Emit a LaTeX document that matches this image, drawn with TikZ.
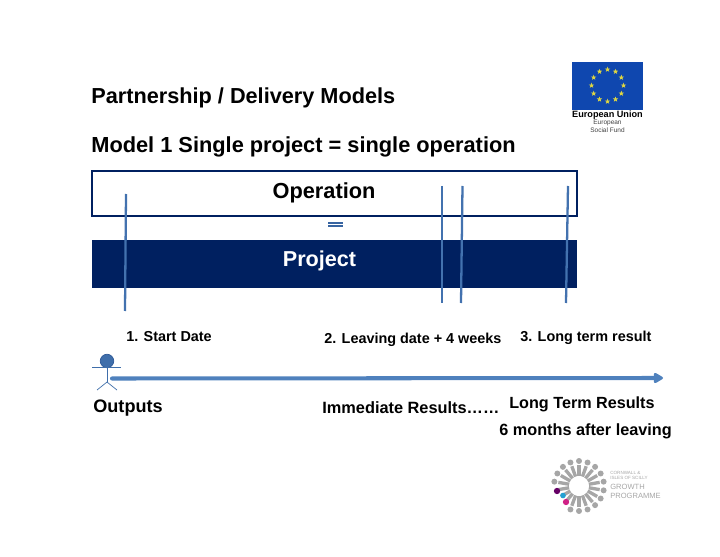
\documentclass[tikz,border=0pt]{standalone}
\usepackage{fontspec}
\setmainfont{Liberation Sans}
\usetikzlibrary{shapes.geometric,arrows.meta}
\definecolor{euroblue}{HTML}{0F47AF}
\definecolor{navy}{HTML}{002060}
\definecolor{linkblue}{HTML}{4F81BD}
\definecolor{logogray}{HTML}{A6A6A6}
\tikzset{
  label/.style={font=\bfseries, inner sep=0pt, anchor=west},
  marker/.style={linkblue!85!navy, line width=1.3pt},
  figure/.style={linkblue!80!navy, line width=0.4pt},
  spoke/.style={logogray, line width=1.9pt},
}
\begin{document}
\begin{tikzpicture}[x=0.02cm, y=-0.02cm]
  \useasboundingbox (0,0) rectangle (720,557);
  % Titres
  \node[label, font=\bfseries\fontsize{12.35}{14}\selectfont] (title) at (91,97.5) {Partnership / Delivery Models};
  \node[label, font=\bfseries\fontsize{12.4}{14}\selectfont] (model) at (91,146.5) {Model 1 Single project = single operation};
  % Boites
  \node[draw=navy, line width=1pt, fill=white, minimum width=9.7cm, minimum height=0.9cm] (operation) at (334.5,193.5) {};
  \node[fill=navy, minimum width=9.7cm, minimum height=0.96cm] (project) at (334.5,264) {};
  \node[inner sep=0pt, font=\bfseries\fontsize{12.4}{14}\selectfont] (operationtext) at (324,193) {Operation};
  \node[inner sep=0pt, text=white, font=\bfseries\fontsize{12.3}{14}\selectfont] (projecttext) at (319.5,261) {Project};
  % Egal
  \draw[linkblue!70!navy, line width=1pt] (328,223.2) -- (343,223.2);
  \draw[linkblue!70!navy, line width=1pt] (328,226.2) -- (343,226.2);
  % Traits verticaux
  \coordinate (starttop) at (126,194);
  \coordinate (startend) at (125,311);
  \coordinate (leavetop) at (442,186);
  \coordinate (leaveend) at (442,303);
  \coordinate (weektop) at (462.5,186);
  \coordinate (weekend) at (461,303);
  \coordinate (longtop) at (568,186);
  \coordinate (longend) at (566,303);
  \draw[marker] (starttop) -- (startend);
  \draw[marker] (leavetop) -- (leaveend);
  \draw[marker] (weektop) -- (weekend);
  \draw[marker] (longtop) -- (longend);
  % Dates
  \node[label, font=\bfseries\fontsize{8.2}{10}\selectfont] (start) at (126,337) {1. Start Date};
  \node[label, font=\bfseries\fontsize{8.2}{10}\selectfont] (leaving) at (324,340) {2. Leaving date + 4 weeks};
  \node[label, font=\bfseries\fontsize{8.2}{10}\selectfont] (longterm) at (520,338) {3. Long term result};
  % Personnage
  \node[circle, fill=linkblue!80!navy, draw=linkblue!60!navy, minimum size=0.27cm, inner sep=0pt] (head) at (107,361) {};
  \coordinate (handl) at (92,367);
  \coordinate (handr) at (121,367);
  \coordinate (hip) at (107,382);
  \coordinate (footl) at (97,390);
  \coordinate (footr) at (117,390);
  \draw[figure] (handl) -- (handr);
  \draw[figure] (head) -- (hip);
  \draw[figure] (footl) -- (hip) -- (footr);
  % Fleche
  \coordinate (arrowstart) at (112,378.5);
  \coordinate (arrowend) at (663,378);
  \draw[-{Triangle[length=6pt,width=6.5pt,round]}, linkblue, line width=2.3pt, line cap=round] (arrowstart) -- (arrowend);
  % Resultats
  \node[label, font=\bfseries\fontsize{10.3}{12}\selectfont] (outputs) at (93,408) {Outputs};
  \node[label, font=\bfseries\fontsize{9.3}{11}\selectfont] (immediate) at (322,408) {Immediate Results……};
  \node[label, font=\bfseries\fontsize{9.2}{11}\selectfont] (longresults) at (509,404) {Long Term Results};
  \node[label, font=\bfseries\fontsize{9.25}{11}\selectfont] (months) at (499,431) {6 months after leaving};
  % Drapeau
  \fill[euroblue] (572,62) rectangle (643,110);
  \foreach \a in {0,30,...,330}
    \node[star, star points=5, star point ratio=2.4, fill=yellow!70!gray, inner sep=0pt, minimum size=3.2pt] at ({607.5+16*sin(\a)},{85.5-16*cos(\a)}) {};
  \node[inner sep=0pt, font=\bfseries\fontsize{5.2}{6}\selectfont] (eu) at (607.5,115.5) {European Union};
  \node[inner sep=0pt, font=\fontsize{3.7}{4}\selectfont, text=black!75] (esf1) at (607.5,123) {European};
  \node[inner sep=0pt, font=\fontsize{3.7}{4}\selectfont, text=black!75] (esf2) at (607.5,130.5) {Social Fund};
  % Logo
  \foreach \a in {0,20,...,340}
    \draw[spoke] ({579+10*sin(\a)},{486-10*cos(\a)}) -- ({579+21*sin(\a)},{486-21*cos(\a)});
  \foreach \a in {0,20,...,200,280,300,320,340}
    \fill[logogray] ({579+25*sin(\a)},{486-25*cos(\a)}) circle (1.7pt);
  \fill[violet!80!black] (557,491) circle (1.8pt);
  \fill[cyan!70!teal] (563,495.5) circle (1.6pt);
  \fill[magenta!85!black] (566,502) circle (1.8pt);
  \node[label, font=\fontsize{2.6}{3}\selectfont, text=logogray] (cornwall) at (610,473) {CORNWALL \&};
  \node[label, font=\fontsize{2.6}{3}\selectfont, text=logogray] (isles) at (610,478) {ISLES OF SCILLY};
  \node[label, font=\fontsize{4.3}{5}\selectfont, text=logogray] (growth) at (610,487) {GROWTH};
  \node[label, font=\fontsize{4.3}{5}\selectfont, text=logogray] (programme) at (610,496) {PROGRAMME};
\end{tikzpicture}
\end{document}
